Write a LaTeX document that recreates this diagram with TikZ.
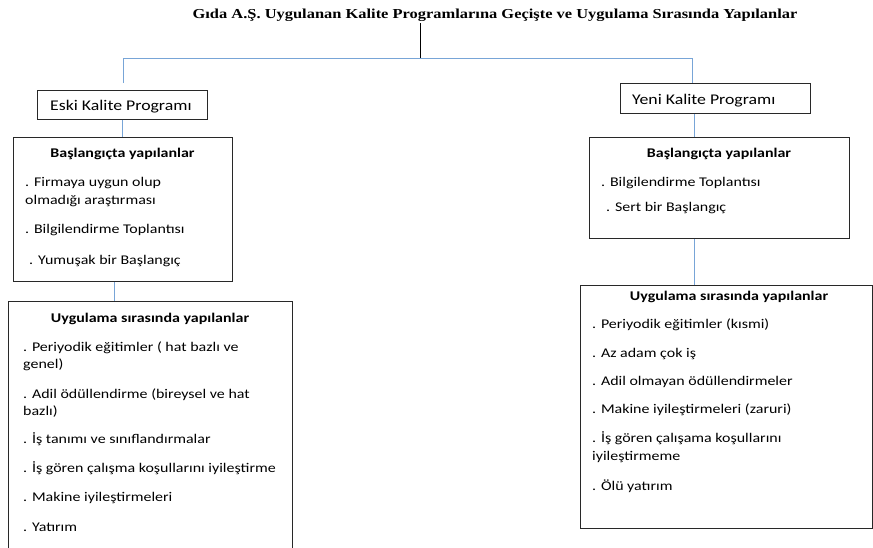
\documentclass[tikz,border=0pt]{standalone}
\usepackage{fontspec}
\setmainfont{Carlito}[FakeStretch=1.2]
\newfontfamily\titlefont{Liberation Serif}[FakeStretch=1.2]
\usetikzlibrary{calc}
\definecolor{linkblue}{RGB}{120,165,215}
\definecolor{boxline}{RGB}{40,40,40}
\tikzset{
  box/.style={draw=boxline, line width=0.8pt, rectangle, anchor=north west, inner sep=0pt},
  conn/.style={draw=linkblue, line width=0.9pt},
  blk/.style={draw=black, line width=0.9pt},
  item/.style={anchor=base west, inner sep=0pt, font=\fontsize{13.3}{17}\selectfont},
  head/.style={anchor=base, inner sep=0pt, font=\fontsize{13.3}{17}\selectfont\bfseries},
  prog/.style={anchor=base west, inner sep=0pt, font=\fontsize{14.8}{18}\selectfont}
}
\begin{document}
\begin{tikzpicture}[x=1pt, y=-1pt]
\useasboundingbox (0,0) rectangle (873,547);
\clip (0,0) rectangle (873,547);

% title
\node[anchor=base, inner sep=0pt, font=\titlefont\bfseries\fontsize{13.7}{15}\selectfont] (title) at (495,18)
  {Gıda A.Ş. Uygulanan Kalite Programlarına Geçişte ve Uygulama Sırasında Yapılanlar};

% junction points of the tree
\coordinate (jt) at (420,58);
\coordinate (jl) at (123,58);
\coordinate (jl2) at (123,83);
\coordinate (jr) at (692,58);

% programme boxes
\node[box, minimum width=170pt, minimum height=29pt] (eski) at (37,90) {};
\node[prog] (eskiT) at (50,110) {Eski Kalite Programı};
\node[box, minimum width=190pt, minimum height=30pt] (yeni) at (620,83) {};
\node[prog] (yeniT) at (632,104) {Yeni Kalite Programı};

% start boxes
\node[box, minimum width=219pt, minimum height=144pt] (basL) at (13,137) {};
\node[box, minimum width=260pt, minimum height=101pt] (basR) at (589,137) {};

% implementation boxes
\node[box, minimum width=284pt, minimum height=300pt] (uyL) at (8,301) {};
\node[box, minimum width=292pt, minimum height=243pt] (uyR) at (580,285) {};

% left start texts
\node[head] (basLh) at (122.5,157) {Başlangıçta yapılanlar};
\node[item] (bl1) at (25,186) {. Firmaya uygun olup};
\node[item] (bl1b) at (25,204) {olmadığı araştırması};
\node[item] (bl2) at (25,233) {. Bilgilendirme Toplantısı};
\node[item] (bl3) at (29,264) {. Yumuşak bir Başlangıç};

% right start texts
\node[head] (basRh) at (719,157) {Başlangıçta yapılanlar};
\node[item] (br1) at (601,186) {. Bilgilendirme Toplantısı};
\node[item] (br2) at (606,211) {. Sert bir Başlangıç};

% left implementation texts
\node[head] (uyLh) at (150,322) {Uygulama sırasında yapılanlar};
\node[item] (ul1) at (23,351) {. Periyodik eğitimler ( hat bazlı ve};
\node[item] (ul1b) at (23,368) {genel)};
\node[item] (ul2) at (23,398) {. Adil ödüllendirme (bireysel ve hat};
\node[item] (ul2b) at (23,415) {bazlı)};
\node[item] (ul3) at (23,443) {. İş tanımı ve sınıflandırmalar};
\node[item] (ul4) at (23,472) {. İş gören çalışma koşullarını iyileştirme};
\node[item] (ul5) at (23,501) {. Makine iyileştirmeleri};
\node[item] (ul6) at (23,531) {. Yatırım};

% right implementation texts
\node[head] (uyRh) at (729,300) {Uygulama sırasında yapılanlar};
\node[item] (ur1) at (592,328) {. Periyodik eğitimler (kısmi)};
\node[item] (ur2) at (592,357) {. Az adam çok iş};
\node[item] (ur3) at (592,385) {. Adil olmayan ödüllendirmeler};
\node[item] (ur4) at (592,413) {. Makine iyileştirmeleri (zaruri)};
\node[item] (ur5) at (592,442) {. İş gören çalışama koşullarını};
\node[item] (ur5b) at (592,460) {iyileştirmeme};
\node[item] (ur6) at (592,490) {. Ölü yatırım};

% connectors
\draw[blk] (jt |- title.south) ++(0,2) -- (jt);
\draw[conn] (jl2) -- (jl) -- (jr) -- (jr |- yeni.north);
\draw[conn] (eski.south) -- (eski.south |- basL.north);
\coordinate (lsb) at ($(basL.south west)!0.46!(basL.south east)$);
\draw[conn] (lsb) -- (lsb |- uyL.north);
\coordinate (ryb) at ($(yeni.south west)!0.39!(yeni.south east)$);
\draw[conn] (ryb) -- (ryb |- basR.north);
\coordinate (rsb) at ($(basR.south west)!0.404!(basR.south east)$);
\draw[conn] (rsb) -- (rsb |- uyR.north);
\end{tikzpicture}
\end{document}
